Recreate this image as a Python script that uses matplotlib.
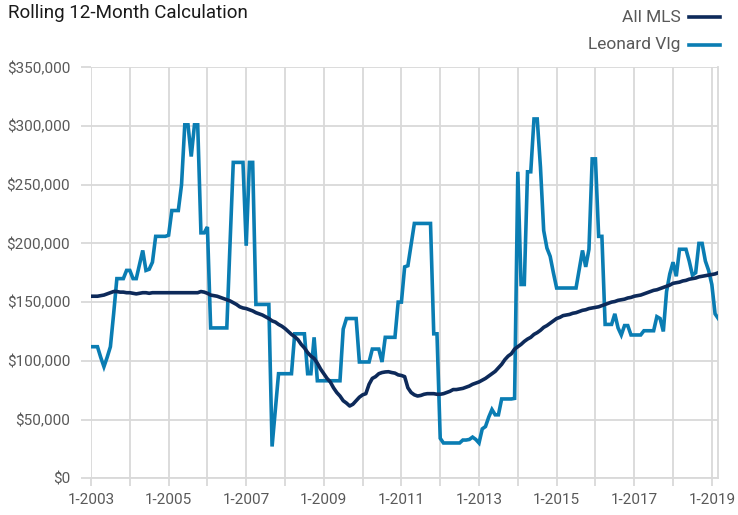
import numpy as np
import matplotlib
matplotlib.use("Agg")
import matplotlib.pyplot as plt
from matplotlib import font_manager
from matplotlib.lines import Line2D

# ---------------- data (monthly, Jan 2003 .. Mar 2019) ----------------
all_mls = [
    155000, 155000, 155000, 155500, 156000, 157000, 158000, 159000, 159000, 158500,
    158500, 158000, 158000, 157500, 157000, 157500, 158000, 158000, 157500, 158000,
    158000, 158000, 158000, 158000, 158000, 158000, 158000, 158000, 158000, 158000,
    158000, 158000, 158000, 158000, 159000, 158500, 157500, 156000, 155500, 155000,
    154000, 153000, 152000, 151000, 149500, 148000, 146000, 145000, 144500, 143500,
    142500, 141000, 140000, 139000, 137500, 136000, 134000, 133000, 131000, 129500,
    127500, 125000, 122500, 120500, 118000, 114000, 111000, 107000, 104000, 102000,
    98000, 93000, 89000, 85000, 82000, 77000, 73000, 70000, 66000, 64000,
    61500, 63000, 66000, 69000, 71000, 72000, 80000, 85000, 86500, 89000,
    90000, 90500, 90700, 90000, 89500, 88000, 87500, 86500, 77000, 73000,
    71000, 70000, 70500, 71500, 72000, 72000, 72000, 71500, 71500, 72000,
    73000, 74000, 75500, 75500, 76000, 76500, 77500, 78500, 80000, 81000,
    82000, 83500, 85000, 87000, 89000, 91000, 94000, 97000, 101000, 104000,
    106000, 110000, 112000, 114000, 116500, 118500, 120000, 122500, 124000, 126000,
    128500, 130000, 132000, 134000, 136000, 137000, 138500, 139000, 139500, 140500,
    141000, 142000, 143000, 143500, 144500, 145000, 145500, 146000, 147000, 148000,
    149000, 150000, 150500, 151500, 152000, 152500, 153500, 154000, 155000, 155500,
    156000, 157000, 158000, 159000, 160000, 160500, 161500, 162500, 163500, 164500,
    166000, 166500, 167000, 168000, 168500, 169500, 170000, 170500, 171500, 172000,
    172500, 173000, 173500, 174000, 175000,
]

leonard_vlg = [
    112000, 112000, 112000, 103000, 95000, 103000, 112000, 140000, 170000, 170000,
    170000, 177000, 177000, 170000, 170000, 182000, 194000, 177000, 178000, 184000,
    206000, 206000, 206000, 206000, 207000, 228000, 228000, 228000, 250000, 301000,
    301000, 274000, 301000, 301000, 209000, 209000, 214000, 128000, 128000, 128000,
    128000, 128000, 128000, 200000, 269000, 269000, 269000, 269000, 198000, 269000,
    269000, 148000, 148000, 148000, 148000, 148000, 27000, 58000, 89000, 89000,
    89000, 89000, 89000, 123000, 123000, 123000, 123000, 89000, 89000, 120000,
    83000, 83000, 83000, 83000, 83000, 83000, 83000, 83000, 127000, 136000,
    136000, 136000, 136000, 99000, 99000, 99000, 99000, 110000, 110000, 110000,
    99000, 120000, 120000, 120000, 120000, 150000, 150000, 180000, 181000, 199000,
    217000, 217000, 217000, 217000, 217000, 217000, 123000, 123000, 34000, 30000,
    30000, 30000, 30000, 30000, 30000, 32500, 32500, 33000, 35000, 33000,
    30000, 42000, 44000, 52000, 58500, 54000, 54000, 67500, 67500, 67500,
    67500, 68000, 261000, 165000, 165000, 261000, 261000, 306000, 306000, 265000,
    211000, 196000, 189000, 175000, 162000, 162000, 162000, 162000, 162000, 162000,
    162000, 178000, 194000, 180000, 195000, 272000, 272000, 206000, 206000, 131000,
    131000, 131000, 140000, 128000, 122000, 130000, 130000, 122000, 122000, 122000,
    122000, 125600, 125600, 125600, 125600, 137600, 136000, 125000, 159000, 174000,
    184000, 172000, 195000, 195000, 195000, 185000, 173000, 175000, 200000, 200000,
    185000, 177000, 165000, 140000, 136000,
]

tick_years = [2003, 2004, 2005, 2006, 2007, 2008, 2009, 2010, 2011, 2012,
              2013, 2014, 2015, 2016, 2017, 2018, 2019]
y_ticks = [0, 50000, 100000, 150000, 200000, 250000, 300000, 350000]

# ---------------- fonts ----------------
available = {f.name for f in font_manager.fontManager.ttflist}
if "Liberation Sans Narrow" in available:
    FONT = ["Liberation Sans Narrow", "DejaVu Sans"]
else:
    FONT = ["Roboto", "DejaVu Sans"]
plt.rcParams["font.family"] = FONT

MLS_COLOR = "#0d2a5a"
LV_COLOR = "#0a7db3"
GRID = "#d9d9d9"
TXT = "#595959"

W, H = 738, 515
fig = plt.figure(figsize=(W / 100, H / 100), dpi=100)
ax = fig.add_axes([91 / W, 1 - 478.2 / H, (718.3 - 91) / W, (478.2 - 67.3) / H])

months = np.arange(len(all_mls))
ax.plot(months, leonard_vlg, color=LV_COLOR, lw=2.6, solid_joinstyle="miter", zorder=3)
ax.plot(months, all_mls, color=MLS_COLOR, lw=2.6, solid_joinstyle="round", zorder=4)

ax.set_xlim(0, len(all_mls) - 1)
ax.set_ylim(0, 350000)

xt = [(y - 2003) * 12 for y in tick_years]
ax.set_xticks(xt)
ax.set_xticklabels([f"1-{y}" if (y - 2003) % 2 == 0 else "" for y in tick_years])
ax.set_yticks(y_ticks)
ax.set_yticklabels([f"${v:,.0f}" for v in y_ticks])

ax.grid(True, color=GRID, lw=1.3, zorder=0)
ax.set_axisbelow(True)
for s in ["top", "left"]:
    ax.spines[s].set_visible(False)
for s in ["right", "bottom"]:
    ax.spines[s].set_color(GRID)
    ax.spines[s].set_linewidth(1.3)

ax.tick_params(axis="x", colors=GRID, length=6, width=1.3, labelcolor=TXT,
               labelsize=11, pad=5)
ax.tick_params(axis="y", colors=GRID, length=7, width=1.3, labelcolor=TXT,
               labelsize=11, pad=8)

fig.text(8 / W, 1 - 13 / H, "Rolling 12-Month Calculation", fontsize=13.5,
         color="#1a1a1a", ha="left", va="center")

# legend
for label, col, yy in [("All MLS", MLS_COLOR, 17), ("Leonard Vlg", LV_COLOR, 45)]:
    fig.text(681 / W, 1 - yy / H, label, fontsize=12.5, color=TXT,
             ha="right", va="center")
    fig.add_artist(Line2D([689 / W, 720 / W], [1 - yy / H, 1 - yy / H],
                          color=col, lw=2.6, transform=fig.transFigure))

fig.savefig("out.png", dpi=100)
